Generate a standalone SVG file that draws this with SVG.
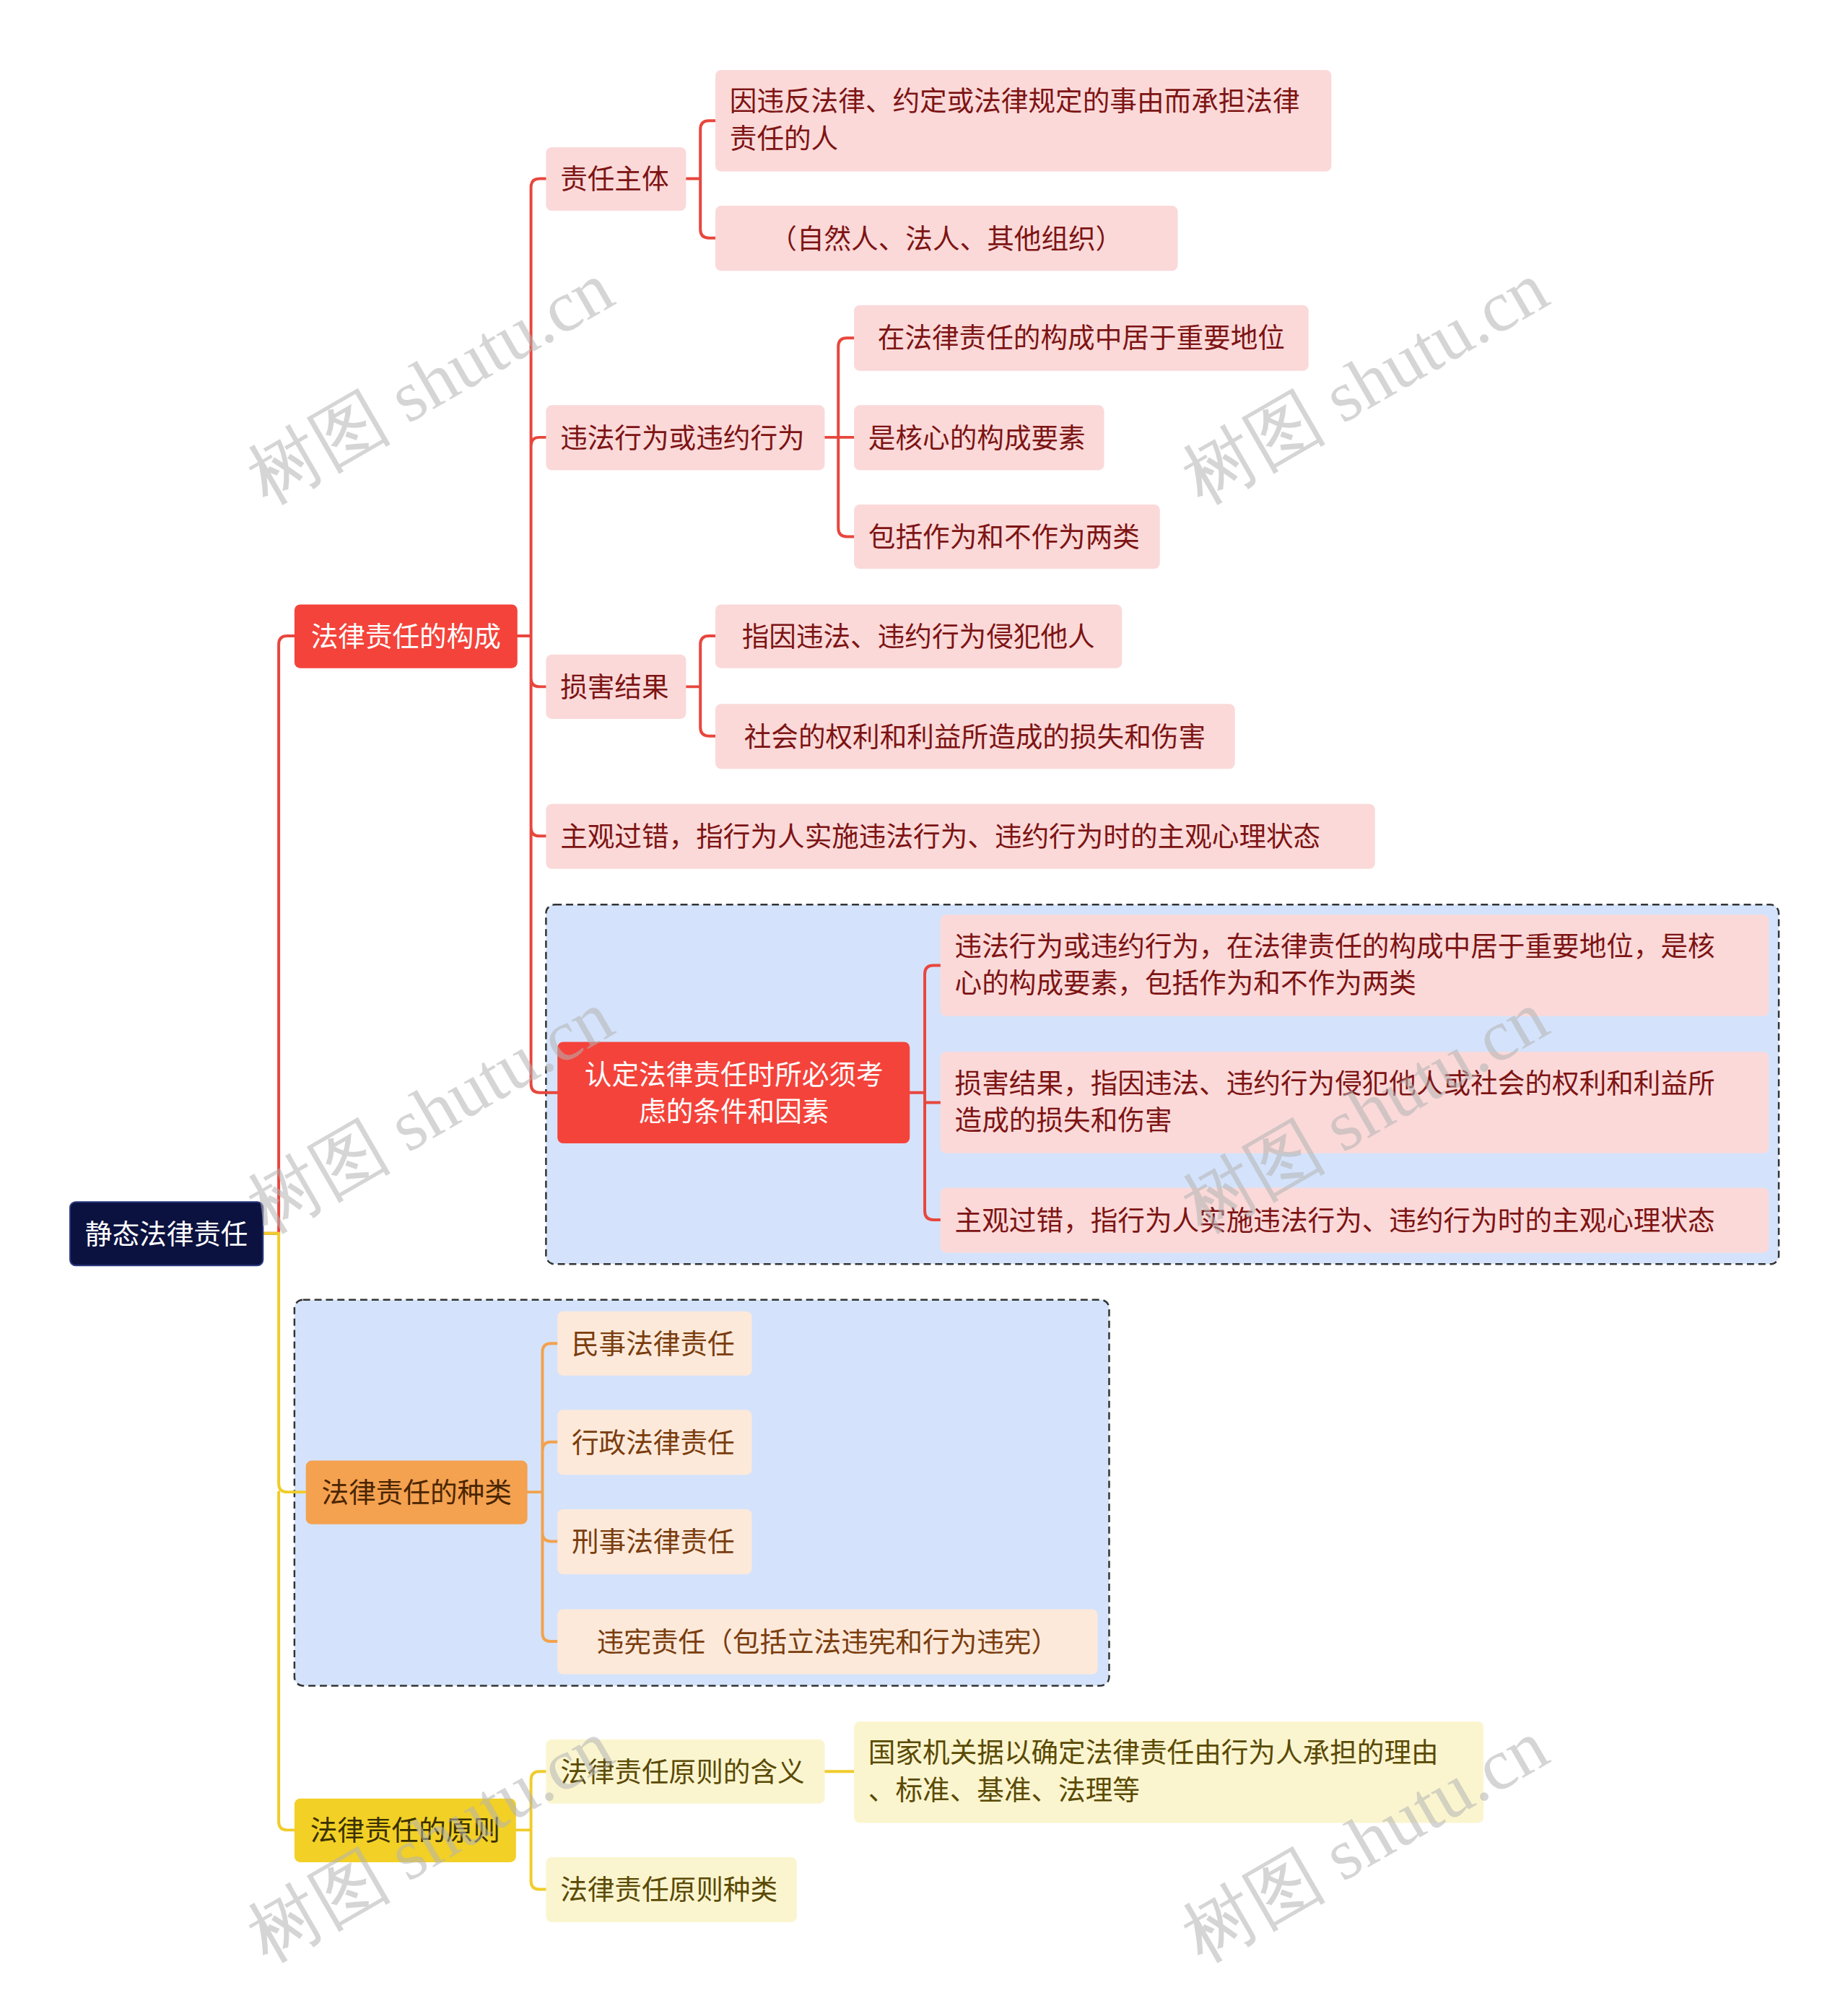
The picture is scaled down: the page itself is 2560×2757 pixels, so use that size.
<svg xmlns="http://www.w3.org/2000/svg" width="2560" height="2757" viewBox="0 0 2560 2757">
<style>
text{font-family:"Noto Sans CJK SC","Noto Sans",sans-serif;font-size:38px}
.r{fill:#fbd9d9}.rt{fill:#7d1414}
.o{fill:#fde9da}.ot{fill:#7a3d0e}
.y{fill:#fbf5cf}.yt{fill:#5a4a05}
.wm{font-family:"Liberation Serif",serif;font-size:100px;fill:#b4b4b4;opacity:0.55}
.c{fill:none;stroke-width:4;stroke-linecap:round}
.grp{fill:#d4e3fb;stroke:#333;stroke-width:2.5;stroke-dasharray:10 6}
</style>
<rect width="2560" height="2757" fill="#fff"/>
<g transform="scale(0.99)">
<rect class="grp" x="764" y="1266" width="1725" height="503" rx="12"/>
<rect class="grp" x="412" y="1819" width="1140" height="540" rx="12"/>
<g id="connectors">
<path class="c" stroke="#e8463d" d="M368 1726 H390 V902 Q390 890 402 890 H412"/>
<path class="c" stroke="#e8463d" d="M724 890 H743 M743 890 V262 Q743 250 755 250 H764 M743 890 V624 Q743 612 755 612 H764 M743 890 V949 Q743 961 755 961 H764 M743 890 V1158 Q743 1170 755 1170 H764 M743 890 V1517 Q743 1529 755 1529 H780"/>
<path class="c" stroke="#e8463d" d="M960 250 H980 M980 250 V181 Q980 169 992 169 H1001 M980 250 V321 Q980 333 992 333 H1001"/>
<path class="c" stroke="#e8463d" d="M1154 612 H1195 M1173 612 V485 Q1173 473 1185 473 H1195 M1173 612 V739 Q1173 751 1185 751 H1195"/>
<path class="c" stroke="#e8463d" d="M960 961 H980 M980 961 V902 Q980 890 992 890 H1001 M980 961 V1018 Q980 1030 992 1030 H1001"/>
<path class="c" stroke="#e8463d" d="M1273 1529 H1294 M1294 1529 V1363 Q1294 1351 1306 1351 H1316 M1294 1529 V1543 H1316 M1294 1529 V1695 Q1294 1707 1306 1707 H1316"/>
<path class="c" stroke="#f2a24e" d="M738 2088 H759 M759 2088 V1892 Q759 1880 771 1880 H780 M759 2088 V2030 Q759 2018 771 2018 H780 M759 2088 V2145 Q759 2157 771 2157 H780 M759 2088 V2285 Q759 2297 771 2297 H780"/>
<path class="c" stroke="#f0cc2a" d="M368 1726 H390 V2076 Q390 2088 402 2088 H428 M390 2088 V2549 Q390 2561 402 2561 H412"/>
<path class="c" stroke="#f0cc2a" d="M722 2561 H743 M743 2561 V2491 Q743 2479 755 2479 H764 M743 2561 V2632 Q743 2644 755 2644 H764 M1154 2479 H1195"/>
</g>
<g id="root"><rect x="98" y="1682" width="270" height="89" rx="8" fill="#0b1240" stroke="#2a3a80" stroke-width="2"/><text x="233" y="1740" text-anchor="middle" fill="#fff">静态法律责任</text></g>
<g id="n1"><rect x="412" y="846" width="312" height="89" rx="8" fill="#f4433b"/><text x="568" y="904" text-anchor="middle" fill="#fff">法律责任的构成</text></g>
<g id="n2"><rect x="428" y="2044" width="310" height="89" rx="8" fill="#f4a150"/><text x="583" y="2102" text-anchor="middle" fill="#4a2500">法律责任的种类</text></g>
<g id="n3"><rect x="412" y="2517" width="310" height="89" rx="8" fill="#f2d026"/><text x="567" y="2575" text-anchor="middle" fill="#3a3000">法律责任的原则</text></g>
<g id="a1"><rect class="r" x="764" y="206" width="196" height="89" rx="8"/><text class="rt" x="784" y="264">责任主体</text></g>
<g id="a2"><rect class="r" x="764" y="567" width="390" height="91" rx="8"/><text class="rt" x="784" y="626">违法行为或违约行为</text></g>
<g id="a3"><rect class="r" x="764" y="916" width="196" height="90" rx="8"/><text class="rt" x="784" y="975">损害结果</text></g>
<g id="a4"><rect class="r" x="764" y="1125" width="1160" height="91" rx="8"/><text class="rt" x="784" y="1184">主观过错，指行为人实施违法行为、违约行为时的主观心理状态</text></g>
<g id="a5"><rect x="780" y="1458" width="493" height="142" rx="8" fill="#f4433b"/><text x="1027" y="1517" text-anchor="middle" fill="#fff">认定法律责任时所必须考</text><text x="1027" y="1569" text-anchor="middle" fill="#fff">虑的条件和因素</text></g>
<g id="b1"><rect class="r" x="1001" y="98" width="862" height="142" rx="8"/><text class="rt" x="1021" y="155">因违反法律、约定或法律规定的事由而承担法律</text><text class="rt" x="1021" y="207">责任的人</text></g>
<g id="b2"><rect class="r" x="1001" y="288" width="647" height="91" rx="8"/><text class="rt" x="1324" y="347" text-anchor="middle">（自然人、法人、其他组织）</text></g>
<g id="b3"><rect class="r" x="1195" y="427" width="636" height="92" rx="8"/><text class="rt" x="1513" y="486" text-anchor="middle">在法律责任的构成中居于重要地位</text></g>
<g id="b4"><rect class="r" x="1195" y="567" width="350" height="91" rx="8"/><text class="rt" x="1215" y="626">是核心的构成要素</text></g>
<g id="b5"><rect class="r" x="1195" y="706" width="428" height="90" rx="8"/><text class="rt" x="1215" y="765">包括作为和不作为两类</text></g>
<g id="b6"><rect class="r" x="1001" y="846" width="569" height="89" rx="8"/><text class="rt" x="1285" y="904" text-anchor="middle">指因违法、违约行为侵犯他人</text></g>
<g id="b7"><rect class="r" x="1001" y="985" width="727" height="91" rx="8"/><text class="rt" x="1364" y="1044" text-anchor="middle">社会的权利和利益所造成的损失和伤害</text></g>
<g id="c1"><rect class="r" x="1316" y="1280" width="1159" height="142" rx="8"/><text class="rt" x="1336" y="1337">违法行为或违约行为，在法律责任的构成中居于重要地位，是核</text><text class="rt" x="1336" y="1389">心的构成要素，包括作为和不作为两类</text></g>
<g id="c2"><rect class="r" x="1316" y="1472" width="1159" height="142" rx="8"/><text class="rt" x="1336" y="1529">损害结果，指因违法、违约行为侵犯他人或社会的权利和利益所</text><text class="rt" x="1336" y="1581">造成的损失和伤害</text></g>
<g id="c3"><rect class="r" x="1316" y="1662" width="1159" height="91" rx="8"/><text class="rt" x="1336" y="1721">主观过错，指行为人实施违法行为、违约行为时的主观心理状态</text></g>
<g id="d1"><rect class="o" x="780" y="1835" width="272" height="90" rx="8"/><text class="ot" x="800" y="1894">民事法律责任</text></g>
<g id="d2"><rect class="o" x="780" y="1973" width="272" height="91" rx="8"/><text class="ot" x="800" y="2032">行政法律责任</text></g>
<g id="d3"><rect class="o" x="780" y="2112" width="272" height="91" rx="8"/><text class="ot" x="800" y="2171">刑事法律责任</text></g>
<g id="d4"><rect class="o" x="780" y="2252" width="756" height="91" rx="8"/><text class="ot" x="1158" y="2311" text-anchor="middle">违宪责任（包括立法违宪和行为违宪）</text></g>
<g id="e1"><rect class="y" x="764" y="2434" width="390" height="90" rx="8"/><text class="yt" x="784" y="2493">法律责任原则的含义</text></g>
<g id="e2"><rect class="y" x="764" y="2599" width="351" height="91" rx="8"/><text class="yt" x="784" y="2658">法律责任原则种类</text></g>
<g id="e3"><rect class="y" x="1195" y="2409" width="881" height="142" rx="8"/><text class="yt" x="1215" y="2466">国家机关据以确定法律责任由行为人承担的理由</text><text class="yt" x="1215" y="2518">、标准、基准、法理等</text></g>
</g>
<g id="watermarks">
<text class="wm" transform="translate(370 700) rotate(-30)">树图 shutu.cn</text>
<text class="wm" transform="translate(1665 700) rotate(-30)">树图 shutu.cn</text>
<text class="wm" transform="translate(370 1710) rotate(-30)">树图 shutu.cn</text>
<text class="wm" transform="translate(1665 1710) rotate(-30)">树图 shutu.cn</text>
<text class="wm" transform="translate(370 2720) rotate(-30)">树图 shutu.cn</text>
<text class="wm" transform="translate(1665 2720) rotate(-30)">树图 shutu.cn</text>
</g>
</svg>
